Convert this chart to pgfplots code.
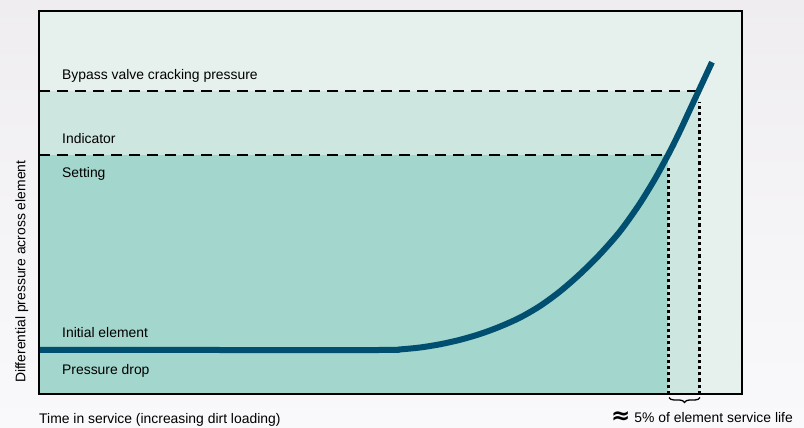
\documentclass[border=0pt]{standalone}
\usepackage{pgfplots}
\pgfplotsset{compat=1.18}
\usepackage{fontspec}
\setmainfont{Liberation Sans}
\newfontfamily\symfont{DejaVu Sans}
\usetikzlibrary{decorations.pathreplacing}

\definecolor{bgtop}{HTML}{EFEDEF}
\definecolor{bgbot}{HTML}{F9F9FB}
\definecolor{zonetop}{HTML}{E6F1ED}
\definecolor{zonemid}{HTML}{CDE6DF}
\definecolor{zonelow}{HTML}{A3D6CC}
\definecolor{curvec}{HTML}{004E70}

\begin{document}
\begin{tikzpicture}[font=\fontsize{13.9}{16}\selectfont]
\fill[top color=bgtop, bottom color=bgbot] (0pt,0pt) rectangle (804pt,428pt);
\begin{axis}[
  at={(39pt,34pt)}, anchor=south west,
  width=703pt, height=383pt, scale only axis,
  xmin=39, xmax=742, ymin=0, ymax=383,
  ticks=none, clip=false, axis on top,
  axis line style={line width=2pt},
  axis background/.style={fill=zonetop},
]
% shaded zones
\addplot[draw=none, fill=zonemid] coordinates {(39,303) (699,303)} \closedcycle;
\addplot[draw=none, fill=zonelow] coordinates {(39,239) (668,239)} \closedcycle;

% threshold lines
\addplot[black, line width=1.5pt, dash pattern=on 11pt off 7pt] coordinates {(39,303) (697,303)};
\addplot[black, line width=1.5pt, dash pattern=on 11pt off 7pt] coordinates {(39,239) (666,239)};
\addplot[black, line width=3pt, dash pattern=on 3.2pt off 3pt] coordinates {(668,0) (668,229)};
\addplot[black, line width=3pt, dash pattern=on 3.2pt off 3pt] coordinates {(699,0) (699,292)};

% pressure drop curve
\addplot[curvec, line width=6pt, smooth] coordinates {
  (39,44) (200,44) (380,44) (400,44.6) (420,46.5) (440,49.7) (460,54.2)
  (480,60) (500,67.4) (520,76.4) (540,88) (560,102.6) (580,120) (600,139.8)
  (620,162.6) (638,187.7) (650,206.8) (658,220.5) (670,242.8) (680,263)
  (690,284.5) (700,306) (712,331.8)};

% labels
\node[anchor=base west, inner sep=0pt] at (axis cs:62,314) {Bypass valve cracking pressure};
\node[anchor=base west, inner sep=0pt] at (axis cs:62,250.7) {Indicator};
\node[anchor=base west, inner sep=0pt] at (axis cs:62,216.3) {Setting};
\node[anchor=base west, inner sep=0pt] at (axis cs:62,56.7) {Initial element};
\node[anchor=base west, inner sep=0pt] at (axis cs:62,19.3) {Pressure drop};

\node[anchor=base west, inner sep=0pt, rotate=90] at (axis cs:25.3,11) {Differential pressure across element};
\node[anchor=base west, inner sep=0pt] at (axis cs:39,-29.5) {Time in service (increasing dirt loading)};
\node[anchor=base east, inner sep=0pt] at (axis cs:793,-28.7)
  {{\symfont\bfseries\fontsize{23}{23}\selectfont\raisebox{-1pt}{≈}}\hspace{4pt}5\% of element service life};

\draw[black, line width=1.3pt, decorate, decoration={brace, mirror, amplitude=5pt}]
  (axis cs:669,-3.5) -- (axis cs:700,-3.5);
\end{axis}
\pgfresetboundingbox
\path[use as bounding box] (0pt,0pt) rectangle (804pt,428pt);
\end{tikzpicture}
\end{document}
